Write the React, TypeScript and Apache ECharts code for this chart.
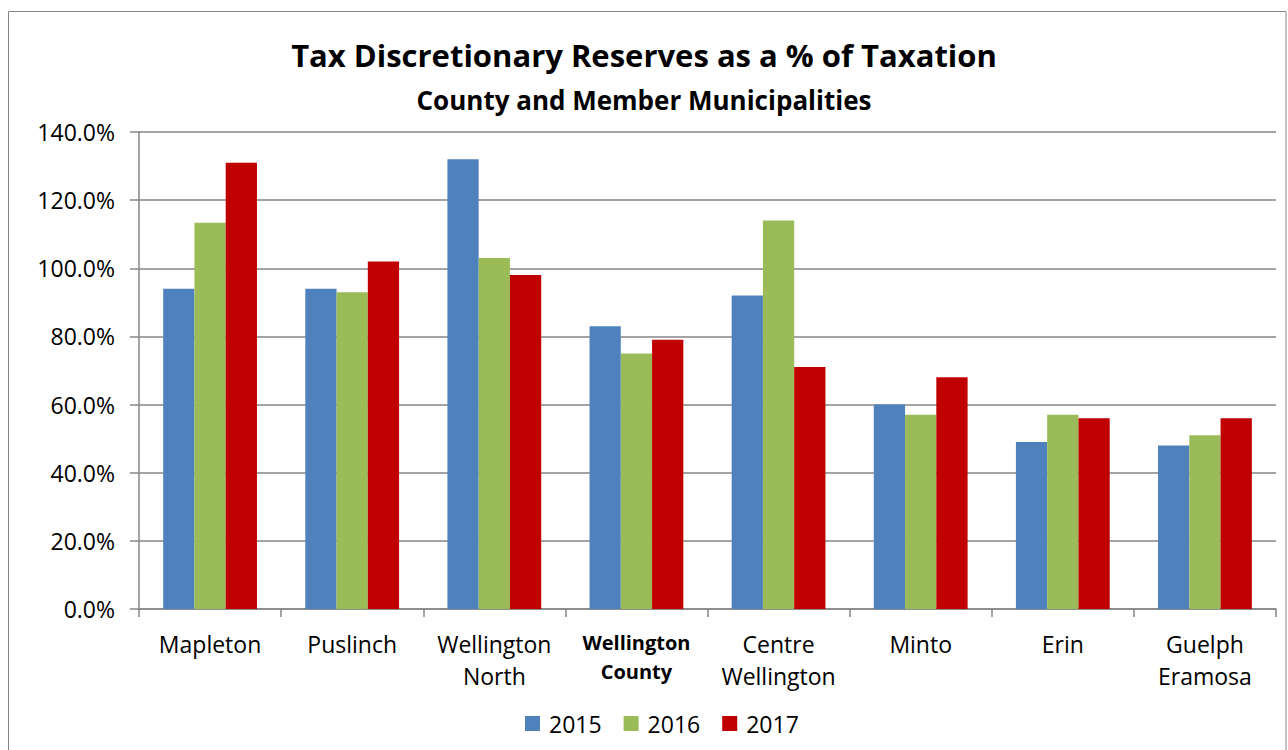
import React, { useEffect, useRef } from "react";
import * as echarts from "echarts";

const categories = ["Mapleton", "Puslinch", "Wellington\nNorth", "Wellington\nCounty", "Centre\nWellington", "Minto", "Erin", "Guelph\nEramosa"];
const boldCategory = "Wellington\nCounty";
const years = ["2015", "2016", "2017"];
const values2015 = [94, 94, 132, 83, 92, 60, 49, 48];
const values2016 = [113.4, 93, 103, 75, 114, 57, 57, 51];
const values2017 = [131, 102, 98, 79, 71, 68, 56, 56];
const colors = ["#4F81BD", "#9BBB59", "#C00000"];
const yTicks = [0, 20, 40, 60, 80, 100, 120, 140];

export default function App() {
  const ref = useRef<HTMLDivElement>(null);
  useEffect(() => {
    const chart = echarts.init(ref.current!, null, { renderer: "svg" });
    const font = "'Open Sans', 'Noto Sans', sans-serif";
    const seriesData = [values2015, values2016, values2017];
    chart.setOption({
      animation: false,
      backgroundColor: "#ffffff",
      textStyle: { fontFamily: font },
      title: [
        {
          text: "Tax Discretionary Reserves as a % of Taxation",
          left: "center",
          top: 34,
          textStyle: { fontSize: 31, fontWeight: "bold", color: "#000", fontFamily: font },
        },
        {
          text: "County and Member Municipalities",
          left: "center",
          top: 82,
          textStyle: { fontSize: 26, fontWeight: "bold", color: "#000", fontFamily: font },
        },
      ],
      graphic: [
        {
          type: "rect",
          shape: { x: 8.5, y: 11.5, width: 1277.5, height: 760 },
          style: { fill: "none", stroke: "#868686", lineWidth: 1 },
          silent: true,
        },
      ],
      legend: {
        bottom: 10,
        left: 520,
        itemWidth: 15,
        itemHeight: 15,
        itemGap: 22,
        icon: "rect",
        textStyle: { fontSize: 23, color: "#000", fontFamily: font, padding: [0, 0, 0, 4] },
        data: years,
      },
      grid: { left: 139, right: 12, top: 132, bottom: 141, containLabel: false },
      xAxis: {
        type: "category",
        data: categories,
        axisLine: { lineStyle: { color: "#868686", width: 1.5 } },
        axisTick: { show: true, length: 8, lineStyle: { color: "#868686", width: 1.5 } },
        axisLabel: {
          fontSize: 23,
          color: "#000",
          margin: 19,
          lineHeight: 32,
          interval: 0,
          fontFamily: font,
          formatter: (v: string) =>
            v === boldCategory ? v.split("\n").map((s) => `{b|${s}}`).join("\n") : v,
          rich: {
            b: { fontWeight: "bold", fontSize: 20, lineHeight: 29, color: "#000", fontFamily: font },
          },
        },
      },
      yAxis: {
        type: "value",
        min: yTicks[0],
        max: yTicks[yTicks.length - 1],
        interval: 20,
        axisLine: { show: true, lineStyle: { color: "#868686", width: 1.5 } },
        axisTick: { show: true, length: 9, lineStyle: { color: "#868686", width: 1.5 } },
        splitLine: { lineStyle: { color: "#868686", width: 1.5 } },
        axisLabel: {
          fontSize: 23,
          color: "#000",
          margin: 24,
          fontFamily: font,
          formatter: (v: number) => v.toFixed(1) + "%",
        },
      },
      series: years.map((y, i) => ({
        name: y,
        type: "bar",
        data: seriesData[i],
        barGap: "0%",
        barCategoryGap: "34%",
        itemStyle: { color: colors[i] },
      })),
    });
    return () => chart.dispose();
  }, []);
  return (
    <div
      ref={ref}
      style={{ position: "absolute", left: 0, top: 0, width: 1288, height: 750 }}
    />
  );
}
